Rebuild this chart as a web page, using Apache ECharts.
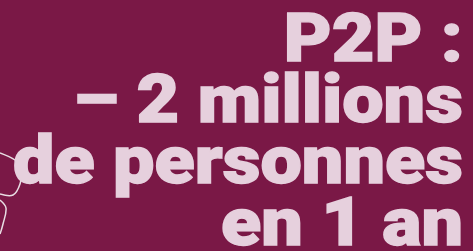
<!DOCTYPE html>
<html><head><meta charset="utf-8">
<script src="https://cdn.jsdelivr.net/npm/echarts@6/dist/echarts.min.js"></script>
<style>html,body{margin:0;padding:0;background:#7a1846;}#c{width:473px;height:251px;}</style>
</head><body><div id="c"></div>
<script>
var lines = ["P2P :", "– 2 millions", "de personnes", "en 1 an"];
var chart = echarts.init(document.getElementById('c'), null, {renderer:'canvas'});
var baselines = [61, 122, 183, 245];
var els = [
  {type:'polyline', shape:{points:[[0,153],[15,160],[22,168],[20,184],[13,195],[0,194]], smooth:0.35}, style:{fill:null, stroke:'#e8dde3', lineWidth:1.5}},
  {type:'polyline', shape:{points:[[0,200],[6,208],[3,224],[0,234]], smooth:0.35}, style:{fill:null, stroke:'#e8dde3', lineWidth:1.5}}
];
var fs = 67;
lines.forEach(function(t,i){
  els.push({type:'text', x:463, y:baselines[i] + 14*fs/66 + 3, scaleX:1.1, z:10, style:{text:t, fill:'#e6d0dd', stroke:'#e6d0dd', lineWidth:1.4, font:'900 '+fs+'px "Roboto", "Liberation Sans", sans-serif', textAlign:'right', verticalAlign:'bottom'}});
});
chart.setOption({backgroundColor:'#7a1846', animation:false, graphic:{elements:els}});
</script></body></html>
